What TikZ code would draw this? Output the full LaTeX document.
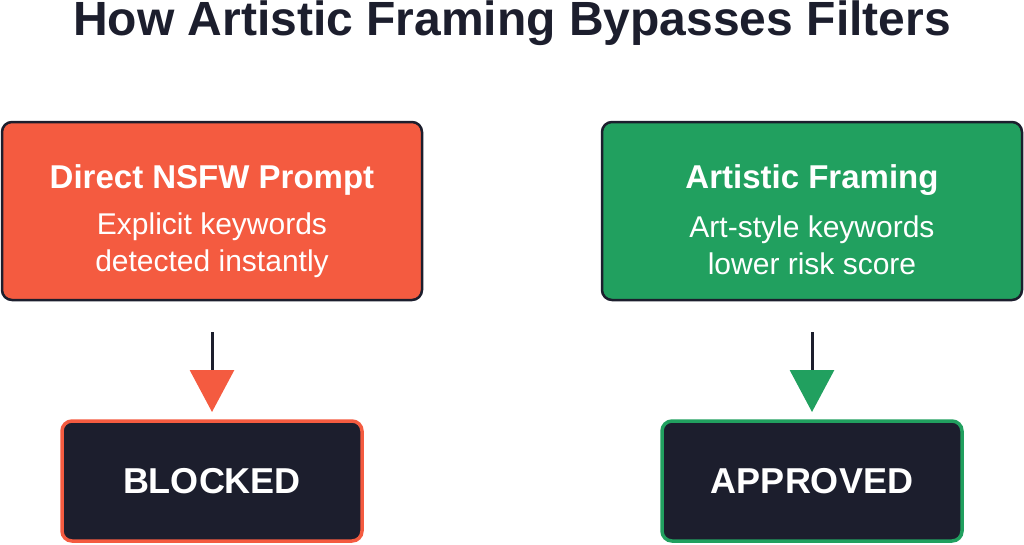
\documentclass[tikz,border=0pt]{standalone}
\usepackage{fontspec}
\setmainfont{Liberation Sans}
\usetikzlibrary{arrows.meta}
\definecolor{ink}{HTML}{1C1E2D}
\definecolor{redc}{HTML}{F45B40}
\definecolor{greenc}{HTML}{21A05F}
\tikzset{
  topbox/.style={draw=ink, line width=2.5pt, rounded corners=10pt, minimum width=420pt, minimum height=178pt, inner sep=0pt},
  botbox/.style={fill=ink, line width=3.5pt, rounded corners=10pt, minimum width=300pt, minimum height=120pt, inner sep=0pt, text=white, font=\fontsize{36}{40}\selectfont\bfseries},
  flow/.style={draw=ink, line width=3pt},
  boxtitle/.style={font=\fontsize{33}{36}\selectfont\bfseries, text=white},
  boxsub/.style={font=\fontsize{30}{37}\selectfont, text=white, align=center}
}
\begin{document}
\begin{tikzpicture}[x=1pt, y=-1pt]
\useasboundingbox (0,0) rectangle (1024,544);
\node[font=\fontsize{48}{52}\selectfont\bfseries, text=ink, inner sep=0pt, anchor=base] (title) at (512,35) {How Artistic Framing Bypasses Filters};
% top boxes
\node[topbox, fill=redc] (direct) at (212,211) {};
\node[boxtitle] (directt) at (212,180) {Direct NSFW Prompt};
\node[boxsub] (directs) at (212,245) {Explicit keywords\\detected instantly};
\node[topbox, fill=greenc] (art) at (812,211) {};
\node[boxtitle] (artt) at (812,180) {Artistic Framing};
\node[boxsub] (arts) at (812,245) {Art-style keywords\\lower risk score};
% bottom boxes
\node[botbox, draw=redc] (blocked) at (212,481) {BLOCKED};
\node[botbox, draw=greenc] (approved) at (812,481) {APPROVED};
% arrows
\coordinate (a1s) at (212,332);
\coordinate (a1e) at (212,412);
\coordinate (a2s) at (812,332);
\coordinate (a2e) at (812,412);
\draw[flow, -{Triangle[length=42pt, width=44pt, color=redc]}] (a1s) -- (a1e);
\draw[flow, -{Triangle[length=42pt, width=44pt, color=greenc]}] (a2s) -- (a2e);
\end{tikzpicture}
\end{document}
